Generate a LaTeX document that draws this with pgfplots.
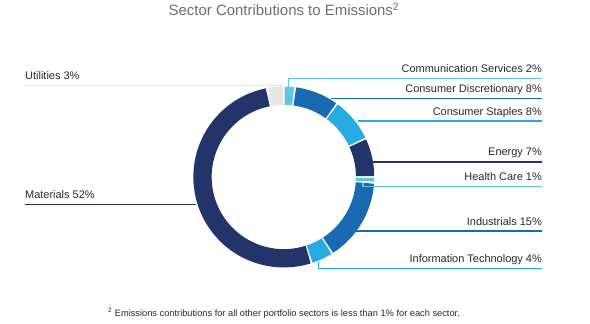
\documentclass[border=0pt]{standalone}
\usepackage{pgfplots}
\pgfplotsset{compat=1.18}
\usepackage{fontspec}
\setmainfont{Liberation Sans}
\definecolor{navy}{RGB}{34,52,106}
\definecolor{midblue}{RGB}{25,106,178}
\definecolor{lightblue}{RGB}{40,170,226}
\definecolor{cyanc}{RGB}{96,198,220}
\definecolor{greyc}{RGB}{230,230,230}
\definecolor{txt}{RGB}{40,40,40}
\definecolor{titlec}{RGB}{110,110,110}
% donut segment: start (%), value (%), colour
\newcommand{\seg}[3]{\addplot[draw=#3, line width=18.3bp, domain=3.6*#1+0.6:3.6*(#1+#2)-0.6, samples=60, variable=\t] ({283.8+81.3*sin(\t)},{177-81.3*cos(\t)});}
\newcommand{\lab}[3]{\node[anchor=base east, inner sep=0pt, text=txt, font=\fontsize{11}{12}\selectfont] at (axis cs:#1,#2) {#3};}
\begin{document}
\begin{tikzpicture}
\begin{axis}[width=590bp, height=323bp, scale only axis, xmin=0, xmax=590, ymin=0, ymax=323, y dir=reverse, hide axis, clip=false, no markers]
% segments (clockwise from top)
\seg{0}{2}{cyanc}
\seg{2}{8}{midblue}
\seg{10}{8}{lightblue}
\seg{18}{7}{navy}
\seg{25}{1}{cyanc}
\seg{26}{15}{midblue}
\seg{41}{4}{lightblue}
\seg{45}{52}{navy}
\seg{97}{3}{greyc}
% leader lines
\addplot[cyanc, line width=1.3bp] coordinates {(288.3,87) (288.3,78.5) (542,78.5)};
\addplot[midblue, line width=1.3bp] coordinates {(331,98.7) (542,98.7)};
\addplot[lightblue, line width=1.3bp] coordinates {(358,121) (542,121)};
\addplot[navy, line width=1.3bp] coordinates {(373,162) (542,162)};
\addplot[cyanc, line width=1.3bp] coordinates {(363,183) (363,186.5) (542,186.5)};
\addplot[midblue, line width=1.3bp] coordinates {(355,231) (542,231)};
\addplot[lightblue, line width=1.3bp] coordinates {(318.3,262) (318.3,268.5) (542,268.5)};
\addplot[greyc, line width=1.3bp] coordinates {(25,85.5) (281,85.5) (281,88)};
\addplot[navy, line width=1.3bp] coordinates {(25,204.5) (196,204.5)};
% labels
\lab{542}{72.5}{Communication Services 2\%}
\lab{542}{92.7}{Consumer Discretionary 8\%}
\lab{542}{115.3}{Consumer Staples 8\%}
\lab{542}{155.7}{Energy 7\%}
\lab{542}{180.3}{Health Care 1\%}
\lab{542}{225.3}{Industrials 15\%}
\lab{542}{262.5}{Information Technology 4\%}
\node[anchor=base west, inner sep=0pt, text=txt, font=\fontsize{11}{12}\selectfont] at (axis cs:25,79) {Utilities 3\%};
\node[anchor=base west, inner sep=0pt, text=txt, font=\fontsize{11}{12}\selectfont] at (axis cs:25,198.5) {Materials 52\%};
% title and footnote
\node[anchor=base, inner sep=0pt, text=titlec, font=\fontsize{15}{18}\selectfont] at (axis cs:284,15.5) {Sector Contributions to Emissions\textsuperscript{2}};
\node[anchor=base west, inner sep=0pt, text=txt, font=\fontsize{9.3}{11}\selectfont] at (axis cs:108,316.7) {\textsuperscript{2} Emissions contributions for all other portfolio sectors is less than 1\% for each sector.};
\end{axis}
\pgfresetboundingbox
\useasboundingbox (current axis.south west) rectangle (current axis.north east);
\end{tikzpicture}
\end{document}
